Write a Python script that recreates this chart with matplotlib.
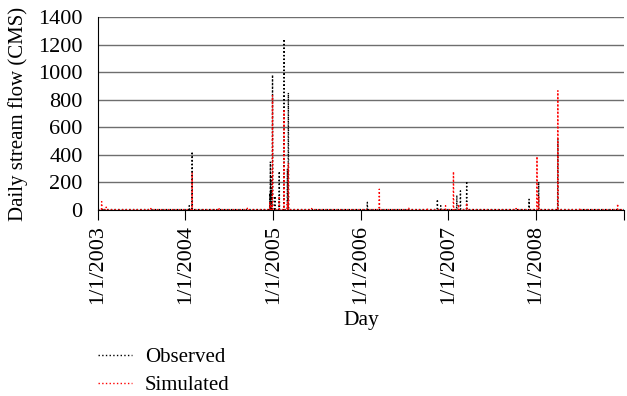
import pandas as pd
import matplotlib
matplotlib.use("Agg")
import matplotlib.pyplot as plt

plt.rcParams['font.family'] = ['Liberation Serif', 'DejaVu Serif']

# peak flows (CMS), baseline elsewhere
obs_dates = ["2003-01-20", "2004-01-17", "2004-01-29", "2004-12-18", "2004-12-20",
             "2004-12-22", "2004-12-24", "2004-12-29", "2005-01-08", "2005-01-26",
             "2005-02-15", "2005-03-01", "2005-03-05", "2006-01-28", "2006-11-16",
             "2006-11-30", "2007-02-05", "2007-02-20", "2007-03-18", "2007-12-03",
             "2008-01-12", "2008-04-01"]
obs_values = [10, 30, 423, 120, 350, 250, 150, 980, 100, 280,
              1240, 300, 850, 55, 76,
              30, 106, 138, 209, 77,
              204, 520]

sim_dates = ["2003-01-17", "2003-02-05", "2003-08-10", "2004-01-29", "2004-05-20",
             "2004-09-15", "2004-12-18", "2004-12-22", "2004-12-29", "2005-01-26",
             "2005-02-15", "2005-03-01", "2005-03-05", "2005-06-10", "2006-03-19",
             "2006-07-20", "2006-10-05", "2006-12-20", "2007-01-22", "2007-02-12",
             "2007-03-18", "2007-10-10", "2008-01-05", "2008-01-12", "2008-04-01",
             "2008-07-01", "2008-12-06"]
sim_values = [60, 20, 10, 266, 15,
              12, 60, 40, 830, 100,
              730, 60, 340, 10, 150,
              12, 15, 30, 278, 40,
              50, 10, 388, 100, 865,
              12, 44]

baseline = 2.0
days = pd.date_range("2003-01-01", "2008-12-31", freq="D")

obs = pd.Series(baseline, index=days)
obs[pd.to_datetime(obs_dates)] = obs_values
sim = pd.Series(baseline, index=days)
sim[pd.to_datetime(sim_dates)] = sim_values

fig = plt.figure(figsize=(6.27, 3.96), dpi=100)
ax = fig.add_axes([0.156, 0.47, 0.839, 0.487])

l1, = ax.plot(obs.index, obs.values, color="black", linestyle=":", linewidth=1.0, label="Observed")
l2, = ax.plot(sim.index, sim.values, color="red", linestyle=":", linewidth=1.0, label="Simulated")

ax.set_ylim(0, 1400)
ax.set_yticks(range(0, 1401, 200))
ax.set_xlim(pd.Timestamp("2003-01-01"), pd.Timestamp("2009-01-01"))
xt = pd.to_datetime(["2003-01-01", "2004-01-01", "2005-01-01", "2006-01-01",
                     "2007-01-01", "2008-01-01", "2009-01-01"])
ax.set_xticks(xt)
ax.set_xticklabels([f"{d.month}/{d.day}/{d.year}" for d in xt[:-1]] + [""], rotation=90)

ax.grid(axis="y", color="#6e6e6e", linewidth=1.0)
ax.set_axisbelow(True)
for s in ["top", "right"]:
    ax.spines[s].set_visible(False)
ax.tick_params(axis="y", length=0, labelsize=16, pad=11)
ax.tick_params(axis="x", length=7, direction="out", labelsize=16, pad=4)

ax.set_ylabel("Daily stream flow (CMS)", fontsize=15, labelpad=7)
ax.set_xlabel("Day", fontsize=15.5, labelpad=5)

fig.legend(handles=[l1, l2], loc="upper left", bbox_to_anchor=(0.14, 0.149),
           frameon=False, fontsize=15, handlelength=1.6, handletextpad=0.65,
           labelspacing=0.4, borderpad=0)

fig.savefig("out.png", dpi=100)
